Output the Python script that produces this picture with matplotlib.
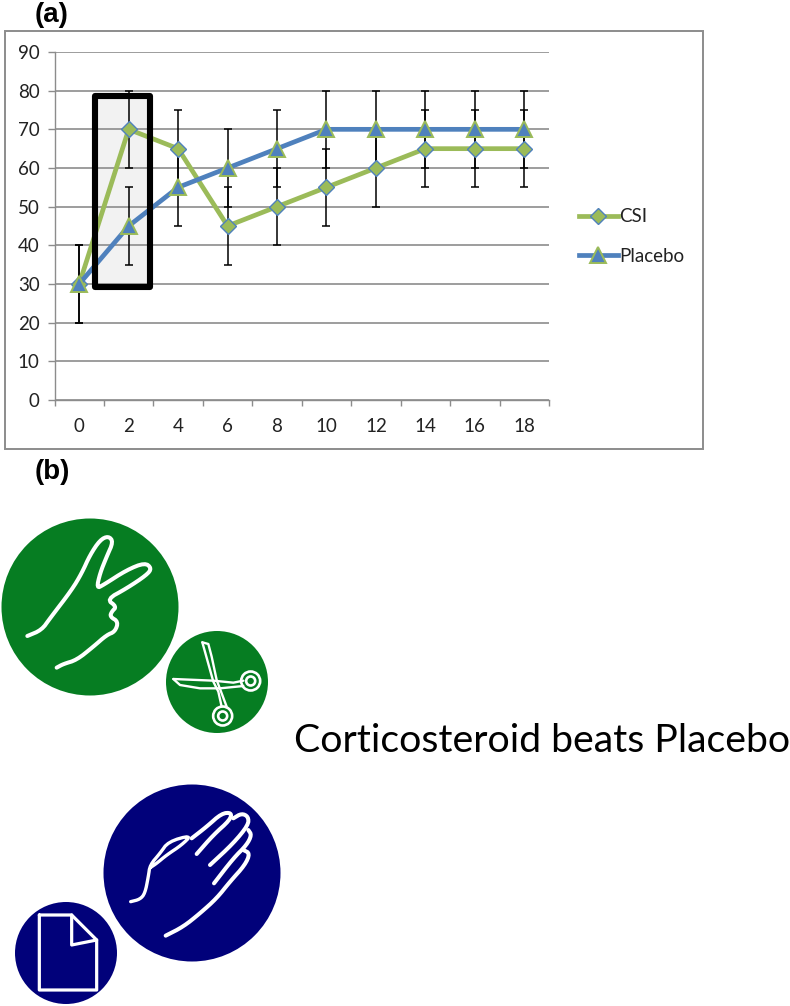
import matplotlib
matplotlib.use("Agg")
import matplotlib.pyplot as plt
import numpy as np
from matplotlib.patches import Circle, Rectangle

# Trial data: pain score over weeks
weeks = [0, 2, 4, 6, 8, 10, 12, 14, 16, 18]
csi = [30, 70, 65, 45, 50, 55, 60, 65, 65, 65]
placebo = [30, 45, 55, 60, 65, 70, 70, 70, 70, 70]
csi_err = [10] * 10
placebo_err = [10] * 10
y_ticks = [0, 10, 20, 30, 40, 50, 60, 70, 80, 90]
series_names = ["CSI", "Placebo"]
caption = "Corticosteroid beats Placebo"

GREEN = "#9BBB59"
BLUE = "#4F81BD"
GRID = "#8c8c8c"
INK = "#222222"
W, H = 790, 1006

plt.rcParams["font.family"] = ["Lato", "DejaVu Sans"]
fig = plt.figure(figsize=(W / 100, H / 100), dpi=100)

# Full-figure overlay in pixel units for the frame, labels and pictograms
page = fig.add_axes([0, 0, 1, 1], zorder=0)
page.set_xlim(0, W)
page.set_ylim(H, 0)
page.axis("off")
page.add_patch(Rectangle((4.5, 30.5), 698.5, 418.5, fc="white", ec=GRID, lw=1.4))

# Line chart
left, right, top, bottom = 54.5, 549, 52, 400
ax = fig.add_axes([left / W, 1 - bottom / H, (right - left) / W, (bottom - top) / H], zorder=1)
ax.patch.set_alpha(0)
ax.set_xlim(-0.5, 9.5)
ax.set_ylim(0, 90)
pos = list(range(len(weeks)))
ax.set_yticks(y_ticks)
ax.set_xticks(pos)
ax.set_xticklabels([str(w) for w in weeks])
ax.set_xticks([p - 0.5 for p in pos] + [9.5], minor=True)
ax.grid(axis="y", color=GRID, lw=1.2)
ax.set_axisbelow(True)
for side in ("top", "right"):
    ax.spines[side].set_visible(False)
for side in ("left", "bottom"):
    ax.spines[side].set_color(GRID)
    ax.spines[side].set_linewidth(1.0)
ax.tick_params(axis="x", which="major", length=0, labelsize=13.5, pad=13, colors=INK)
ax.tick_params(axis="x", which="minor", length=4.5, color=GRID, width=1)
ax.tick_params(axis="y", length=4.7, color=GRID, width=1, labelsize=13.5, pad=6, colors=INK)

# Highlight box around week 2: pale fill under the grid, heavy outline over the lines
box_x, box_y, box_w, box_h = 0.32, 29.3, 1.106, 49.3
ax.add_patch(Rectangle((box_x, box_y), box_w, box_h, fc="#F2F2F2", ec="none", zorder=0.4))

ax.errorbar(pos, csi, yerr=csi_err, fmt="none", ecolor="black", elinewidth=1.1,
            capsize=3, capthick=1.1, zorder=3)
ax.errorbar(pos, placebo, yerr=placebo_err, fmt="none", ecolor="black", elinewidth=1.1,
            capsize=3, capthick=1.1, zorder=3)
ax.plot(pos, csi, color=GREEN, lw=3.4, marker="D", ms=8, mfc=GREEN, mec=BLUE, mew=1,
        label=series_names[0], zorder=4, solid_joinstyle="round")
ax.plot(pos, placebo, color=BLUE, lw=3.4, marker="^", ms=11, mfc=BLUE, mec=GREEN, mew=1.4,
        label=series_names[1], zorder=5, solid_joinstyle="round")
ax.add_patch(Rectangle((box_x, box_y), box_w, box_h, fc="none", ec="black", lw=4.4, zorder=6,
                       joinstyle="round"))
leg = ax.legend(loc="center left", bbox_to_anchor=(1.06, 0.47),
                frameon=False, fontsize=13.5, handlelength=2.1, handletextpad=0.05,
                labelspacing=1.2, borderpad=0, borderaxespad=0)
for t in leg.get_texts():
    t.set_color(INK)

# Panel letters
for label, x, y in (("(a)", 35, 15), ("(b)", 35, 472)):
    page.text(x, y, label, fontsize=20, fontweight="bold", family="Liberation Sans",
              va="center", ha="left", color="black")

page.text(294, 741, caption, fontsize=28.3, va="center", ha="left", color="black")

# Pictograms on coloured discs
DARK_GREEN = "#067D22"
NAVY = "#01017A"
for cx, cy, r, col in ((90, 607, 88.5, DARK_GREEN), (217, 682, 51, DARK_GREEN),
                       (192, 873, 88.5, NAVY), (66, 953, 51, NAVY)):
    page.add_patch(Circle((cx, cy), r, fc=col, ec="none"))


def smooth(points, rounds=2):
    # Corner cutting keeps the hand outlines from looking faceted
    pts = np.asarray(points, dtype=float)
    for _ in range(rounds):
        q = 0.75 * pts[:-1] + 0.25 * pts[1:]
        r = 0.25 * pts[:-1] + 0.75 * pts[1:]
        mid = np.empty((2 * len(q), 2))
        mid[0::2] = q
        mid[1::2] = r
        pts = np.vstack([pts[0], mid, pts[-1]])
    return pts


def stroke(points, oy, lw=2.9, curved=True):
    pts = smooth(points) if curved else np.asarray(points, dtype=float)
    page.plot(pts[:, 0] / 3, oy + pts[:, 1] / 3, color="white", lw=lw,
              solid_capstyle="round", solid_joinstyle="round")


# Two-finger hand
stroke([(82, 378), (125, 360), (150, 325), (215, 240), (245, 190), (270, 135), (300, 90),
        (325, 78), (340, 95), (320, 140), (300, 190), (290, 235), (310, 225), (380, 180),
        (435, 158), (455, 175), (440, 195), (380, 235), (320, 268), (350, 290), (335, 305),
        (330, 320), (355, 335), (345, 365), (320, 375), (280, 410), (230, 450), (190, 462),
        (170, 473)], 510)

# Scissors
stroke([(607, 397), (625, 402), (635, 440), (650, 510), (680, 590)], 510, 1.7, False)
stroke([(607, 397), (640, 515), (655, 545), (665, 590)], 510, 1.7, False)
stroke([(520, 507), (640, 512), (700, 518), (730, 512)], 510, 1.7, False)
stroke([(520, 507), (540, 525), (600, 535), (660, 535), (730, 528)], 510, 1.7, False)
for cx, cy in ((752, 513), (668, 618)):
    for radius, width in ((9.5, 1.9), (4.5, 1.9)):
        page.add_patch(Circle((cx / 3, 510 + cy / 3), radius, fc="none", ec="white", lw=width))

# Open palm
stroke([(392, 395), (420, 388), (435, 370), (445, 320), (450, 285), (480, 250), (505, 215),
        (575, 195), (545, 225), (500, 255), (470, 280), (452, 292)], 770, 2.4)
stroke([(575, 205), (620, 170), (665, 130), (695, 128), (690, 150), (640, 195), (590, 252)], 770)
stroke([(700, 145), (725, 130), (745, 140), (745, 165), (700, 220), (630, 285)], 770)
stroke([(745, 180), (755, 195), (740, 225), (700, 265), (642, 340)], 770)
stroke([(730, 240), (750, 250), (735, 285), (690, 335), (650, 385), (600, 430), (550, 470),
        (497, 497)], 770)

# Document sheet
stroke([(118, 435), (215, 435), (290, 510), (290, 660), (118, 660), (118, 435)], 770, 2.3, False)
stroke([(215, 435), (215, 525), (290, 510)], 770, 2.3, False)

fig.savefig("out.png", dpi=100)
